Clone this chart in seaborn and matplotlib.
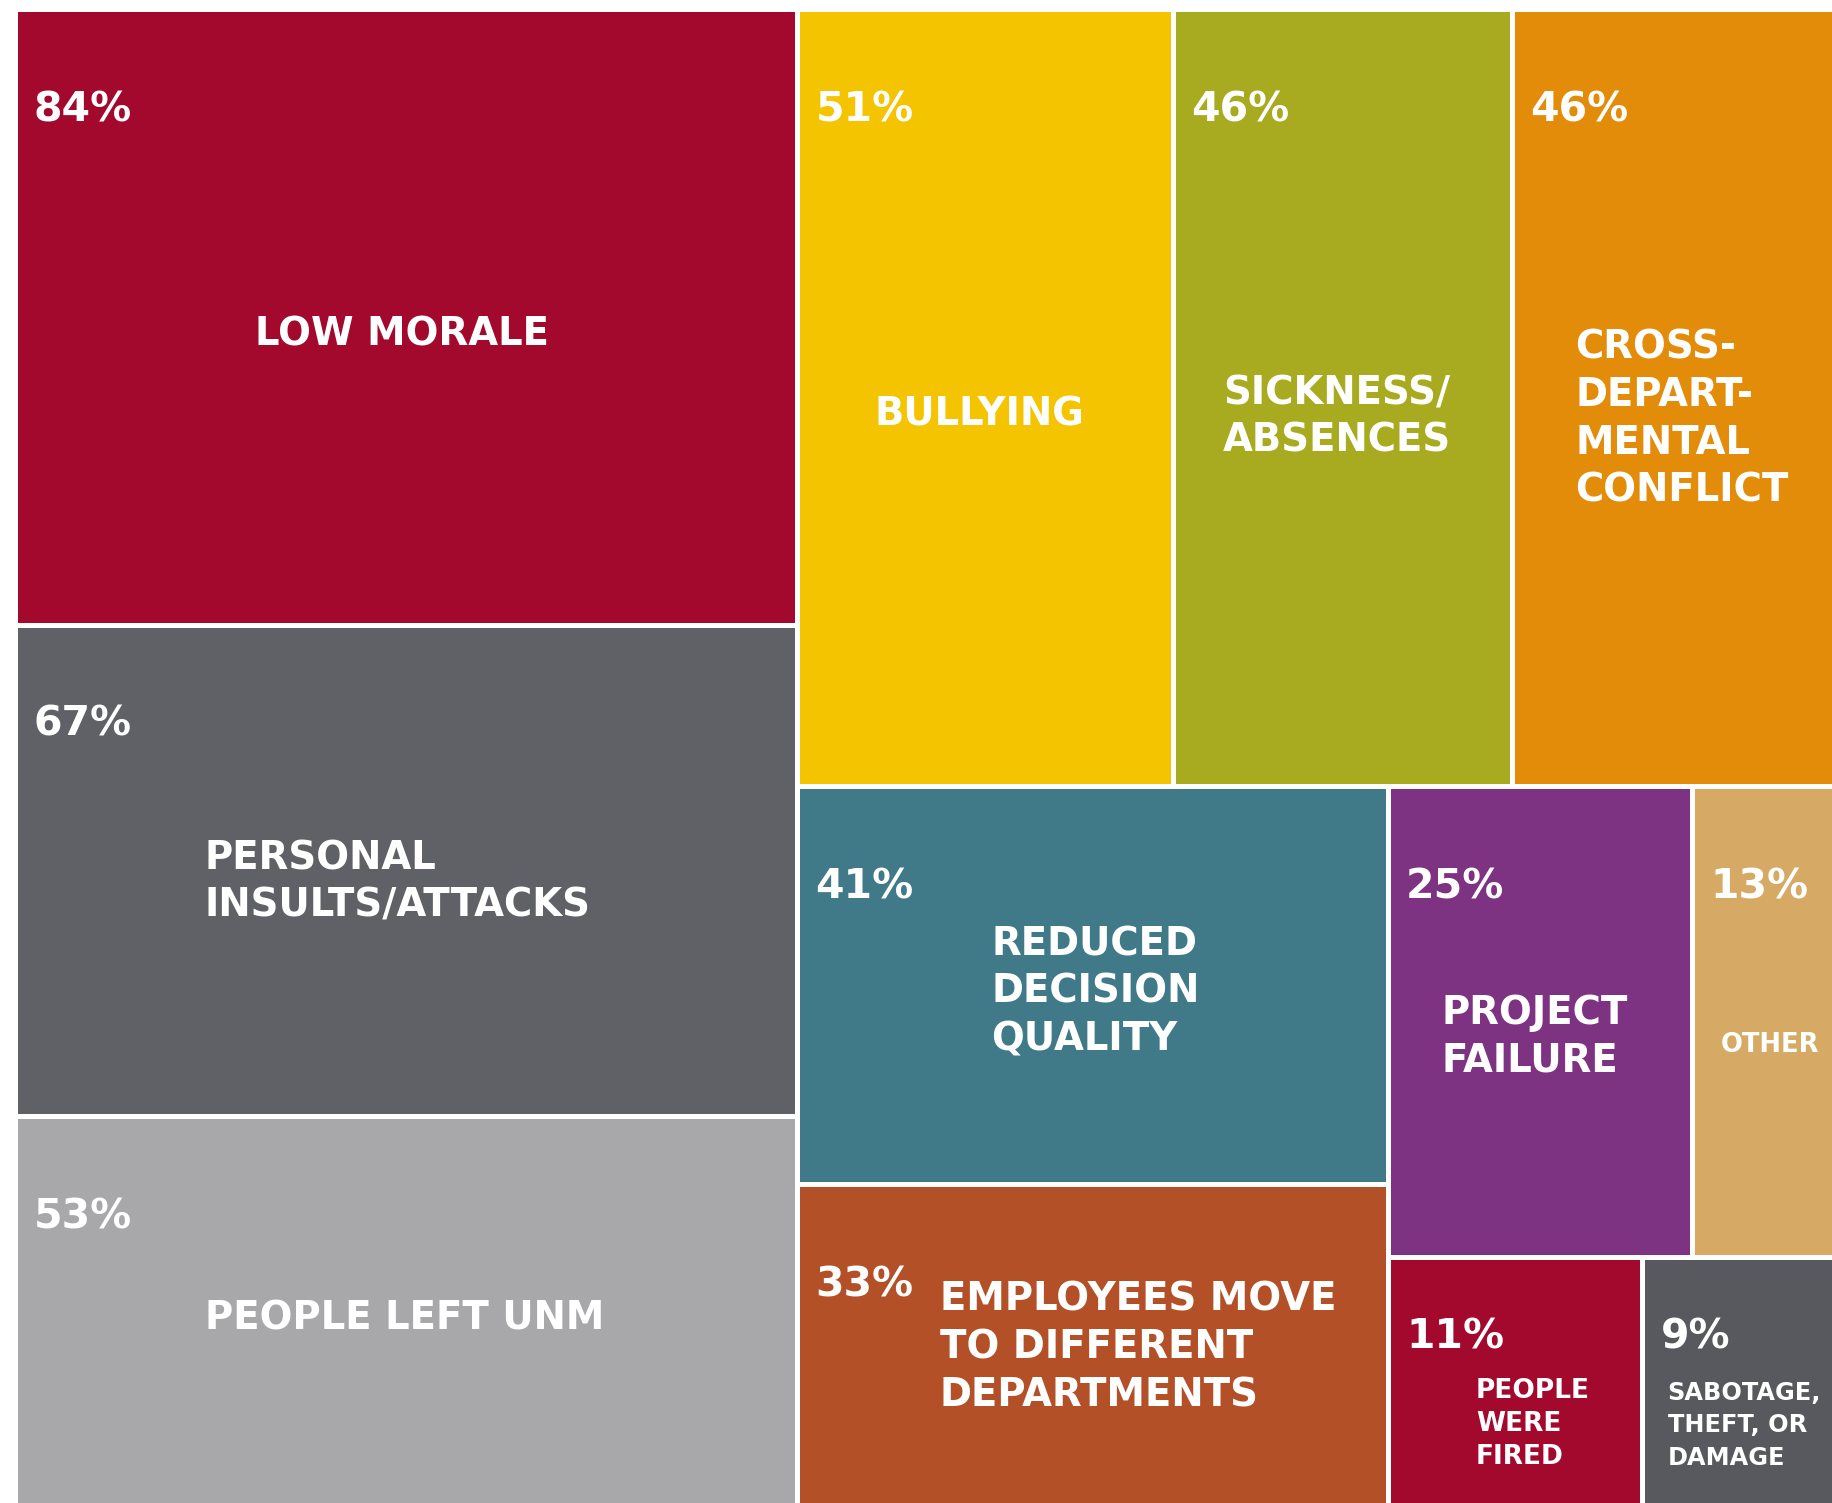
import matplotlib
matplotlib.use("Agg")
import matplotlib.pyplot as plt
import seaborn as sns

# ---------------- data ----------------
categories = [
    "LOW MORALE",
    "PERSONAL\nINSULTS/ATTACKS",
    "PEOPLE LEFT UNM",
    "BULLYING",
    "SICKNESS/\nABSENCES",
    "CROSS-\nDEPART-\nMENTAL\nCONFLICT",
    "REDUCED\nDECISION\nQUALITY",
    "EMPLOYEES MOVE\nTO DIFFERENT\nDEPARTMENTS",
    "PROJECT\nFAILURE",
    "OTHER",
    "PEOPLE\nWERE\nFIRED",
    "SABOTAGE,\nTHEFT, OR\nDAMAGE",
]
values = [84, 67, 53, 51, 46, 46, 41, 33, 25, 13, 11, 9]
colors = [
    "#A3092D", "#5F6166", "#A8A8AA", "#F4C400", "#A8AA20", "#E28C0A",
    "#407A89", "#B45028", "#7D3282", "#D6AA64", "#A3092D", "#58595E",
]

# ---------------- layout (treemap structure) ----------------
# 'h' = children placed side by side, 'v' = children stacked
tree = ("h", [
    ("v", [0, 1, 2]),
    ("v", [
        ("h", [3, 4, 5]),
        ("h", [
            ("v", [6, 7]),
            ("v", [("h", [8, 9]), ("h", [10, 11])]),
        ]),
    ]),
])

FIG_W, FIG_H = 1833, 1503
X0, Y0, W, H = 16, 9, 1835, 1496   # treemap frame (slightly cropped at right)
GAP = 5

def total(node):
    if isinstance(node, int):
        return values[node]
    return sum(total(c) for c in node[1])

rects = {}

def layout(node, x, y, w, h):
    if isinstance(node, int):
        rects[node] = (x, y, w, h)
        return
    kind, children = node
    s = total(node)
    pos = x if kind == "h" else y
    for c in children:
        frac = total(c) / s
        if kind == "h":
            layout(c, pos, y, w * frac, h)
            pos += w * frac
        else:
            layout(c, x, pos, w, h * frac)
            pos += h * frac

layout(tree, X0, Y0, W, H)

# label styling / offsets relative to each tile (left, top)
big = 27.8
label_style = [
    # (dx, dy, fontsize, linespacing)
    (239, 326, big, 1.33),
    (189, 257, big, 1.33),
    (189, 202, big, 1.33),
    (77, 406, big, 1.33),
    (50, 408, big, 1.33),
    (63, 410, big, 1.33),
    (194, 205, big, 1.33),
    (142, 163, big, 1.33),
    (53, 250, big, 1.33),
    (28, 258, 18.5, 1.33),
    (88, 167, 19.0, 1.35),
    (25, 168, 17.3, 1.45),
]
pct_dy = [102, 100, 101, 102, 102, 102, 101, 101, 101, 101, 80, 80]

# ---------------- draw ----------------
sns.set_theme(style="white")
plt.rcParams["font.family"] = ["DejaVu Sans"]

fig = plt.figure(figsize=(FIG_W / 100, FIG_H / 100), dpi=100)
ax = fig.add_axes([0, 0, 1, 1])
ax.set_xlim(0, FIG_W)
ax.set_ylim(FIG_H, 0)
ax.axis("off")

for i in range(len(values)):
    x, y, w, h = rects[i]
    ax.bar(x + GAP / 2, h - GAP, width=w - GAP, bottom=y + GAP / 2,
           align="edge", color=colors[i], edgecolor="none")
    ax.text(x + 18, y + pct_dy[i], f"{values[i]}%", color="white",
            fontsize=29.5, fontweight="bold", ha="left", va="center")
    dx, dy, fs, ls = label_style[i]
    ax.text(x + dx, y + dy, categories[i], color="white", fontsize=fs,
            fontweight="bold", ha="left", va="center", linespacing=ls)

fig.savefig("out.png", dpi=100, facecolor="white")
